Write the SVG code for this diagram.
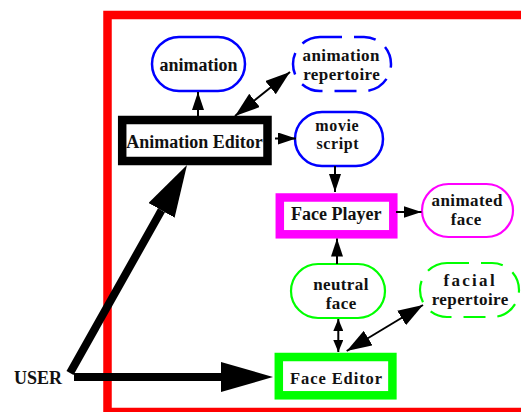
<svg xmlns="http://www.w3.org/2000/svg" width="521" height="412" viewBox="0 0 521 412">
<style>
text{font-family:"Liberation Serif","Times New Roman",serif;font-weight:bold;font-size:18px;fill:#111;text-anchor:middle}
.two{font-size:17px;letter-spacing:0.4px}
.fac{font-size:17px;letter-spacing:2.3px}
.ms{font-size:16px;letter-spacing:0.6px}
.fe{font-size:16.5px;letter-spacing:0.9px}
.blue{fill:#fff;stroke:#0000ff;stroke-width:2.5}
.green{fill:#fff;stroke:#00ff00;stroke-width:2.2}
.mag{fill:#fff;stroke:#ff00ff;stroke-width:2.2}
.dash{stroke-dasharray:22 12}
.thick{fill:#fff;stroke-width:8.5}
.thin{fill:none;stroke:#000;stroke-width:2}
.fat{fill:none;stroke:#000;stroke-width:8}
</style>
<defs>
<marker id="big" markerUnits="userSpaceOnUse" markerWidth="52" markerHeight="30" refX="0" refY="15" orient="auto"><path d="M0,0 L52,15 L0,30 z" fill="#000"/></marker>
<marker id="med" markerUnits="userSpaceOnUse" markerWidth="25" markerHeight="17" refX="25" refY="8.5" orient="auto-start-reverse"><path d="M0,0 L25,8.5 L0,17 z" fill="#000"/></marker>
<marker id="sm" markerUnits="userSpaceOnUse" markerWidth="18" markerHeight="12" refX="18" refY="6" orient="auto"><path d="M0,0 L18,6 L0,12 z" fill="#000"/></marker>
<marker id="tiny" markerUnits="userSpaceOnUse" markerWidth="12" markerHeight="10" refX="12" refY="5" orient="auto-start-reverse"><path d="M0,0 L12,5 L0,10 z" fill="#000"/></marker>
</defs>
<rect width="521" height="412" fill="#fff"/>
<rect id="frame" x="107.5" y="15" width="430" height="397" fill="none" stroke="#ff0000" stroke-width="8.5"/>
<g id="animation"><rect class="blue" x="152" y="37" width="93" height="54" rx="27"/><text x="198.5" y="71">animation</text></g>
<g id="animation-repertoire"><rect class="blue dash" x="293" y="37" width="98" height="54" rx="27"/><text class="two" x="341.2" y="61">animation</text><text class="two" x="341.7" y="79.8">repertoire</text></g>
<g id="animation-editor"><rect class="thick" stroke="#000" x="122.2" y="120" width="145.3" height="41" stroke-width="8"/><text x="194.5" y="148">Animation Editor</text></g>
<g id="movie-script"><rect class="blue" x="295" y="112" width="88" height="54" rx="27"/><text class="ms" x="337.3" y="131">movie</text><text class="ms" x="337.8" y="148.5">script</text></g>
<g id="face-player"><rect class="thick" stroke="#ff00ff" x="279.8" y="197.5" width="113.5" height="36.8"/><text x="336.3" y="219.5">Face Player</text></g>
<g id="animated-face"><rect class="mag" x="422" y="184" width="91" height="53" rx="26.5"/><text class="two" x="467.2" y="206">animated</text><text class="two" x="466.2" y="224.8">face</text></g>
<g id="neutral-face"><rect class="green" x="291" y="264" width="94" height="54" rx="27"/><text class="two" x="341" y="290">neutral</text><text class="two" x="341.2" y="309">face</text></g>
<g id="facial-repertoire"><rect class="green dash" x="420" y="263" width="99" height="54" rx="27"/><text class="fac" x="470.2" y="286">facial</text><text class="two" x="470.2" y="304.8">repertoire</text></g>
<g id="face-editor"><rect class="thick" stroke="#00ff00" x="278.8" y="357" width="113.6" height="38.3" stroke-width="9"/><text class="fe" x="336.5" y="383.5">Face Editor</text></g>
<g id="user"><text x="14" y="384" style="text-anchor:start">USER</text></g>
<g id="connectors">
<line class="fat" x1="74" y1="377" x2="221" y2="377" marker-end="url(#big)"/>
<line class="fat" x1="70" y1="373" x2="161.5" y2="210.3" marker-end="url(#big)"/>
<line class="thin" x1="198" y1="116" x2="198" y2="92" marker-end="url(#sm)"/>
<line class="thin" x1="235" y1="116" x2="290" y2="72" marker-start="url(#med)" marker-end="url(#med)"/>
<line class="thin" x1="275" y1="138.5" x2="296" y2="138.5" marker-end="url(#sm)"/>
<line class="thin" x1="335" y1="166" x2="335" y2="192" marker-end="url(#sm)"/>
<line class="thin" x1="396" y1="212" x2="421.5" y2="212" marker-end="url(#sm)"/>
<line class="thin" x1="337" y1="264" x2="337" y2="238.5" marker-end="url(#sm)"/>
<line class="thin" x1="338.3" y1="319" x2="338.3" y2="352" marker-start="url(#tiny)" marker-end="url(#tiny)"/>
<line class="thin" x1="346.7" y1="351" x2="423" y2="305" marker-start="url(#med)" marker-end="url(#med)"/>
</g>
</svg>
